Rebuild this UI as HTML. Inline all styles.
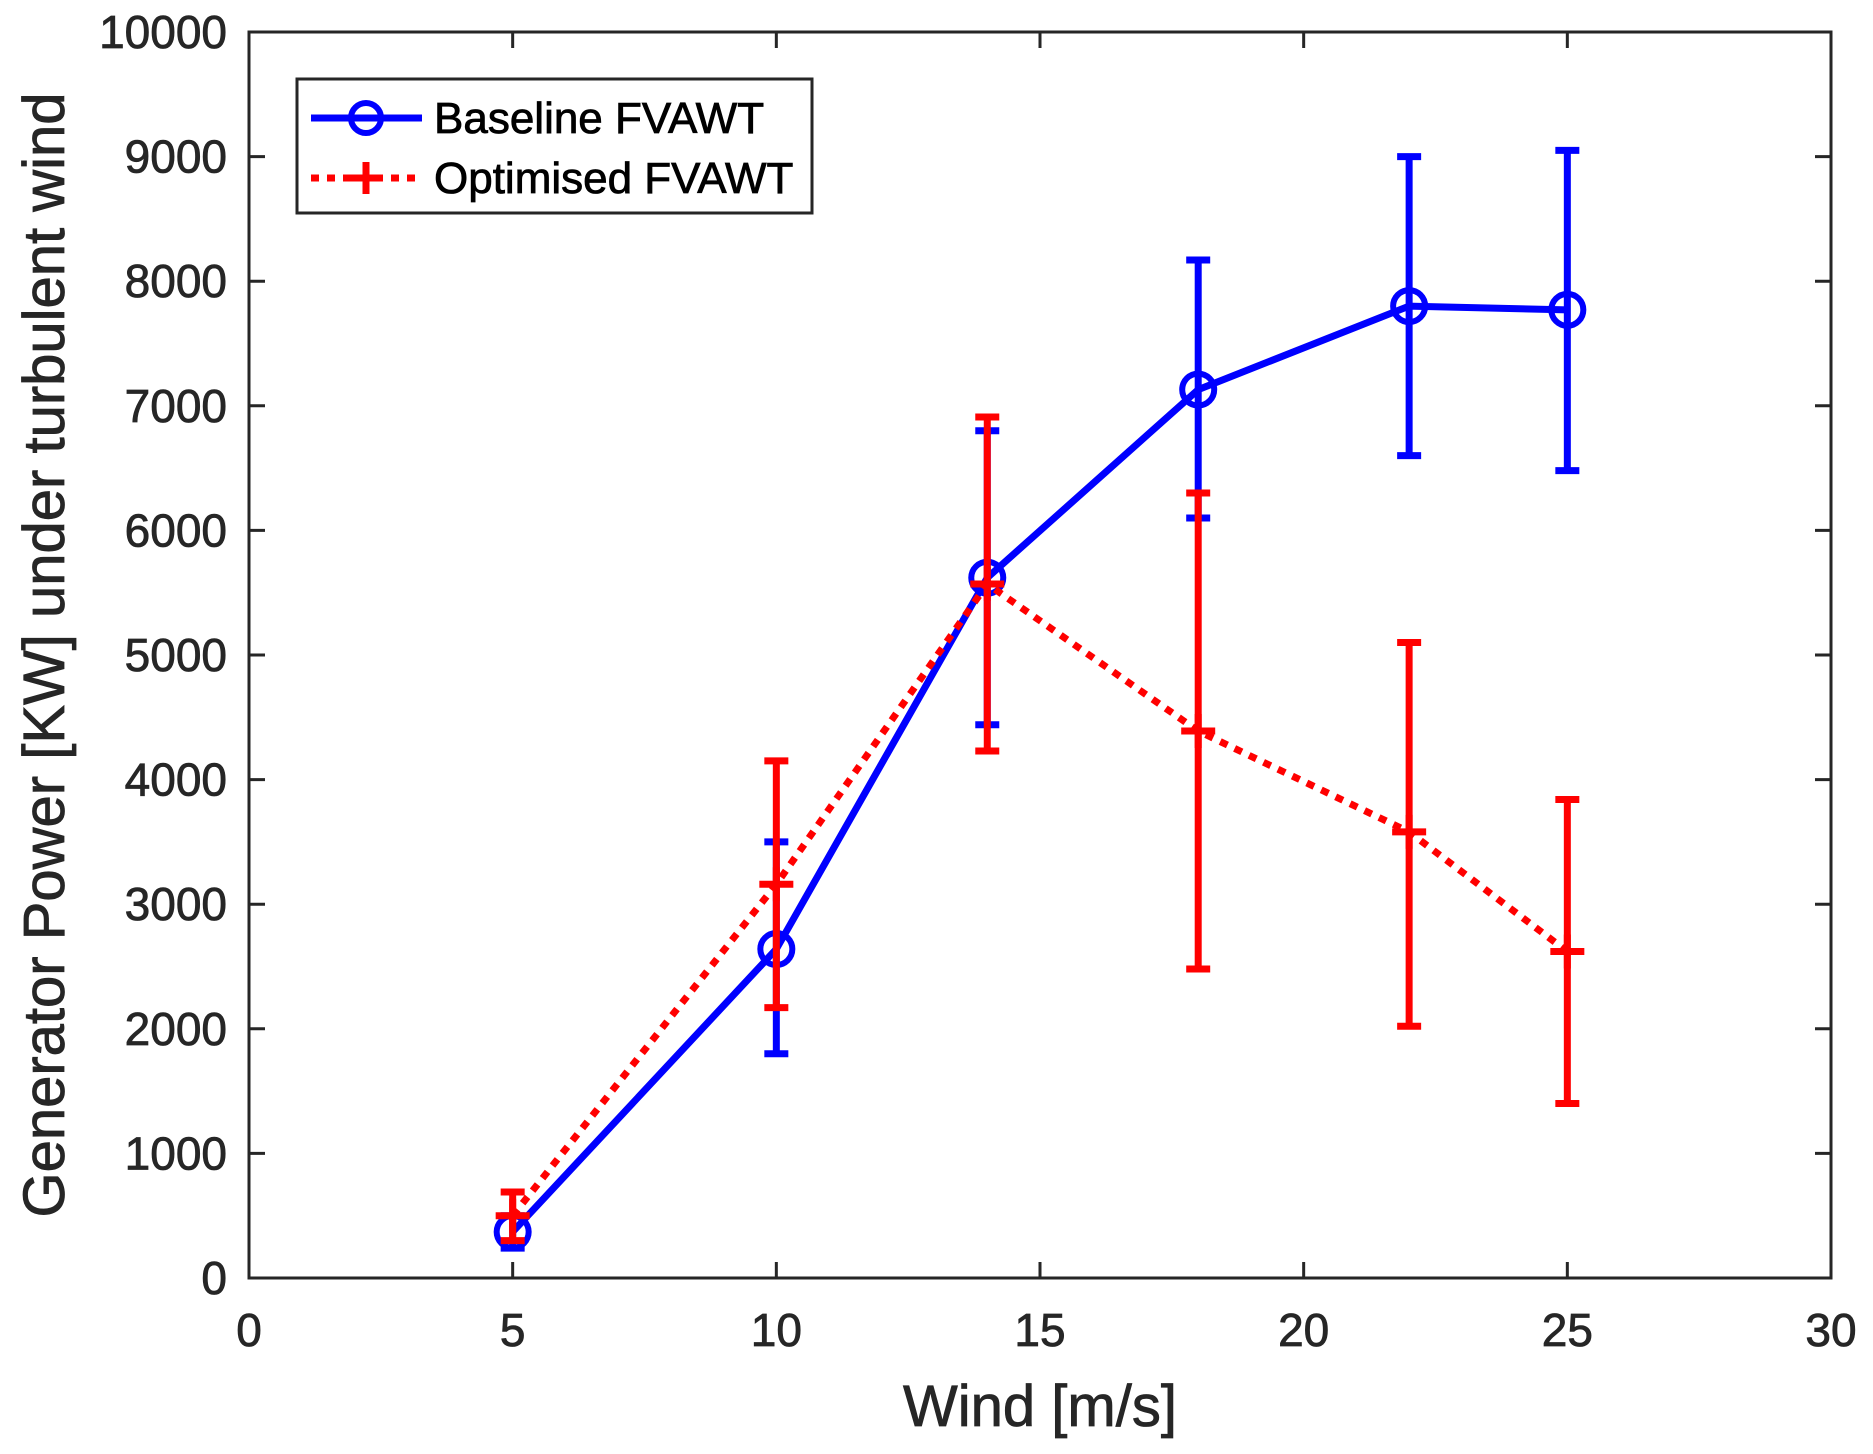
<!DOCTYPE html>
<html><head><meta charset="utf-8"><style>body{margin:0;background:#fff}svg{display:block}text{font-family:"Liberation Sans",Arial,sans-serif;fill:#262626;stroke:#262626;stroke-width:0.8}</style></head>
<body>
<svg id="chart" width="1873" height="1454">
<rect x="0" y="0" width="1873" height="1454" fill="#fff"/>
<g id="plot"></g>
<g id="axes"></g>
<text x="1040" y="1426" font-size="58" text-anchor="middle">Wind [m/s]</text>
<text transform="translate(64,655) rotate(-90)" font-size="58" text-anchor="middle">Generator Power [KW] under turbulent wind</text>
<g>
<rect x="297" y="79" width="515" height="134" fill="#fff" stroke="#262626" stroke-width="3"/>
<g>
<line x1="311" y1="118" x2="422" y2="118" stroke="#0000ff" stroke-width="7"/>
<circle cx="366" cy="118" r="15" fill="none" stroke="#0000ff" stroke-width="6"/>
<text x="434" y="133" font-size="44" style="fill:#000;stroke:#000">Baseline FVAWT</text></g>
<g>
<line x1="311" y1="178" x2="422" y2="178" stroke="#ff0000" stroke-width="7" stroke-dasharray="8,8"/>
<path d="M350 178h32M366 162v32" stroke="#ff0000" stroke-width="7"/>
<text x="434" y="193" font-size="44" style="fill:#000;stroke:#000">Optimised FVAWT</text></g>
</g>
</svg>
<script>
const xTicks=[0,5,10,15,20,25,30];
const yTicks=[0,1000,2000,3000,4000,5000,6000,7000,8000,9000,10000];
const winds=[5,10,14,18,22,25];
const baseVals=[370,2640,5620,7130,7800,7770];
const baseLow=[240,1800,4440,6100,6600,6480];
const baseHigh=[500,3500,6800,8170,9000,9050];
const optVals=[500,3160,5570,4390,3580,2620];
const optLow=[300,2170,4230,2480,2020,1400];
const optHigh=[690,4150,6910,6300,5100,3840];
const L=249,R=1831,T=32,B=1278;
const sx=v=>L+(v-0)/30*(R-L);
const sy=v=>B-(v/10000)*(B-T);
const NS="http://www.w3.org/2000/svg";
const plot=document.getElementById('plot'),axes=document.getElementById('axes');
function mk(t,a,p){const e=document.createElementNS(NS,t);for(const k in a)e.setAttribute(k,a[k]);p.appendChild(e);return e;}
function series(vals,lo,hi,color,dash,marker,name){
  const g=mk('g',{},plot);
  
  
  winds.forEach((w,i)=>{
    const x=sx(w);
    const eb=mk('path',{d:`M${x} ${sy(lo[i])}V${sy(hi[i])}M${x-12} ${sy(lo[i])}h24M${x-12} ${sy(hi[i])}h24`,stroke:color,'stroke-width':7,fill:'none'},g);
    
    
  });
  const ln=mk('polyline',{points:winds.map((w,i)=>sx(w)+','+sy(vals[i])).join(' '),stroke:color,'stroke-width':7,fill:'none','stroke-dasharray':dash},g);
  
  
  winds.forEach((w,i)=>{
    const x=sx(w),y=sy(vals[i]);
    let m;
    if(marker==='o')m=mk('circle',{cx:x,cy:y,r:16,fill:'none',stroke:color,'stroke-width':6},g);
    else m=mk('path',{d:`M${x-17} ${y}h34M${x} ${y-17}v34`,stroke:color,'stroke-width':7},g);
    
    
  });
}
series(baseVals,baseLow,baseHigh,'#0000ff','none','o','baseline');
series(optVals,optLow,optHigh,'#ff0000','8,8','+','optimised');
const fr=mk('rect',{x:L,y:T,width:R-L,height:B-T,fill:'none',stroke:'#262626','stroke-width':3},axes);


xTicks.forEach(v=>{
  const x=sx(v);
  mk('path',{d:`M${x} ${B}v-16M${x} ${T}v16`,stroke:'#262626','stroke-width':3},axes);
  const t=mk('text',{x:x,y:B+68,'font-size':46,'text-anchor':'middle'},axes);
  t.textContent=v;
  
  
});
yTicks.forEach(v=>{
  const y=sy(v);
  mk('path',{d:`M${L} ${y}h16M${R} ${y}h-16`,stroke:'#262626','stroke-width':3},axes);
  const t=mk('text',{x:L-22,y:y+16,'font-size':46,'text-anchor':'end'},axes);
  t.textContent=v;
  
  
});
</script>
</body></html>
